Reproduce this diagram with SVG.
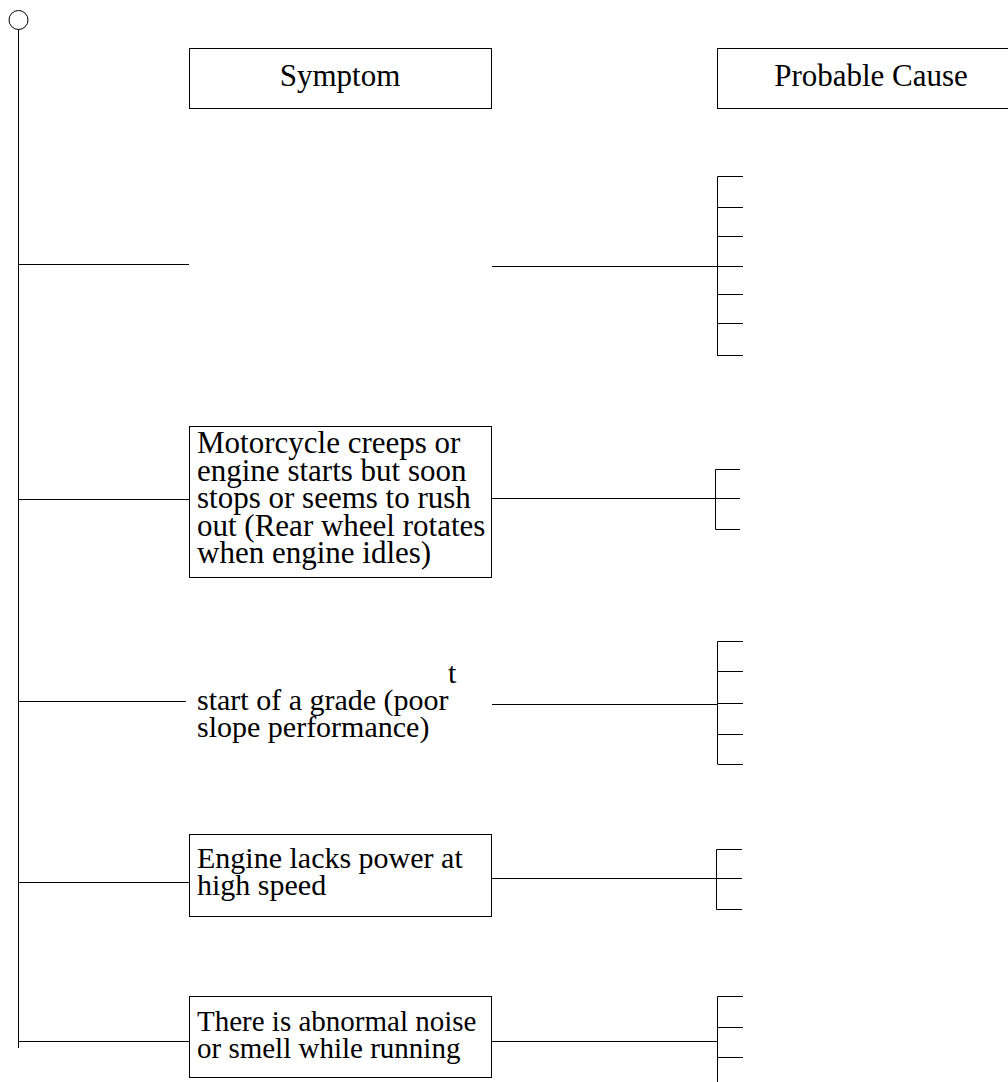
<svg xmlns="http://www.w3.org/2000/svg" width="1008" height="1082" viewBox="0 0 1008 1082">
<style>
.box{fill:#fff;stroke:#000;stroke-width:1}
.ln{stroke:#000;stroke-width:1;fill:none}
.t{font-family:"Liberation Serif","Times New Roman",serif;font-size:31px;fill:#000}
.c{text-anchor:middle}
.m{font-size:30px}
.s{font-size:29px}
</style>
<rect width="1008" height="1082" fill="#fff"/>
<g id="connectors">
<circle class="ln" cx="18.5" cy="20" r="9.5"/>
<path class="ln" d="M18.5 29.5V1048"/>
<path class="ln" d="M18.5 264.5H189 M492 266.5H717.5 M717.5 176.5V356 M717.5 176.5H743 M717.5 207.5H743 M717.5 236.5H743 M717.5 266.5H743 M717.5 294.5H743 M717.5 323.5H743 M717.5 355.5H743"/>
<path class="ln" d="M18.5 499.5H189 M491 498.5H715.5 M715.5 469.5V529.5 M715.5 469.5H740 M715.5 498.5H740 M715.5 529.5H740"/>
<path class="ln" d="M18.5 701.5H186 M492 704.5H717.5 M717.5 641.5V764 M717.5 641.5H743 M717.5 671.5H743 M717.5 703.5H743 M717.5 734.5H743 M717.5 764.5H743"/>
<path class="ln" d="M18.5 882.5H189 M491 878.5H716.5 M716.5 849.5V909.5 M716.5 849.5H742 M716.5 878.5H742 M716.5 909.5H742"/>
<path class="ln" d="M18.5 1041.5H189 M491 1041.5H717.5 M717.5 996.5V1082 M717.5 996.5H743 M717.5 1027.5H743 M717.5 1057.5H743"/>
</g>
<g id="hdr-symptom">
<rect class="box" x="189.5" y="48.5" width="302" height="60"/>
<text class="t c" x="340" y="86">Symptom</text>
</g>
<g id="hdr-cause">
<rect class="box" x="717.5" y="48.5" width="300" height="60"/>
<text class="t c" x="871" y="86">Probable Cause</text>
</g>
<g id="s2">
<rect class="box" x="189.5" y="426.5" width="302" height="151"/>
<text class="t" x="197" y="453">Motorcycle creeps or</text>
<text class="t" x="197" y="480.5">engine starts but soon</text>
<text class="t" x="197" y="508">stops or seems to rush</text>
<text class="t" x="197" y="535.5">out (Rear wheel rotates</text>
<text class="t" x="197" y="563">when engine idles)</text>
</g>
<g id="s3">
<text class="t m" x="448" y="683">t</text>
<text class="t m" x="197" y="710">start of a grade (poor</text>
<text class="t m" x="197" y="737">slope performance)</text>
</g>
<g id="s4">
<rect class="box" x="189.5" y="834.5" width="302" height="82"/>
<text class="t m" x="197" y="868">Engine lacks power at</text>
<text class="t m" x="197" y="895">high speed</text>
</g>
<g id="s5">
<rect class="box" x="189.5" y="996.5" width="302" height="81"/>
<text class="t s" x="197" y="1031">There is abnormal noise</text>
<text class="t s" x="197" y="1058">or smell while running</text>
</g>
</svg>
